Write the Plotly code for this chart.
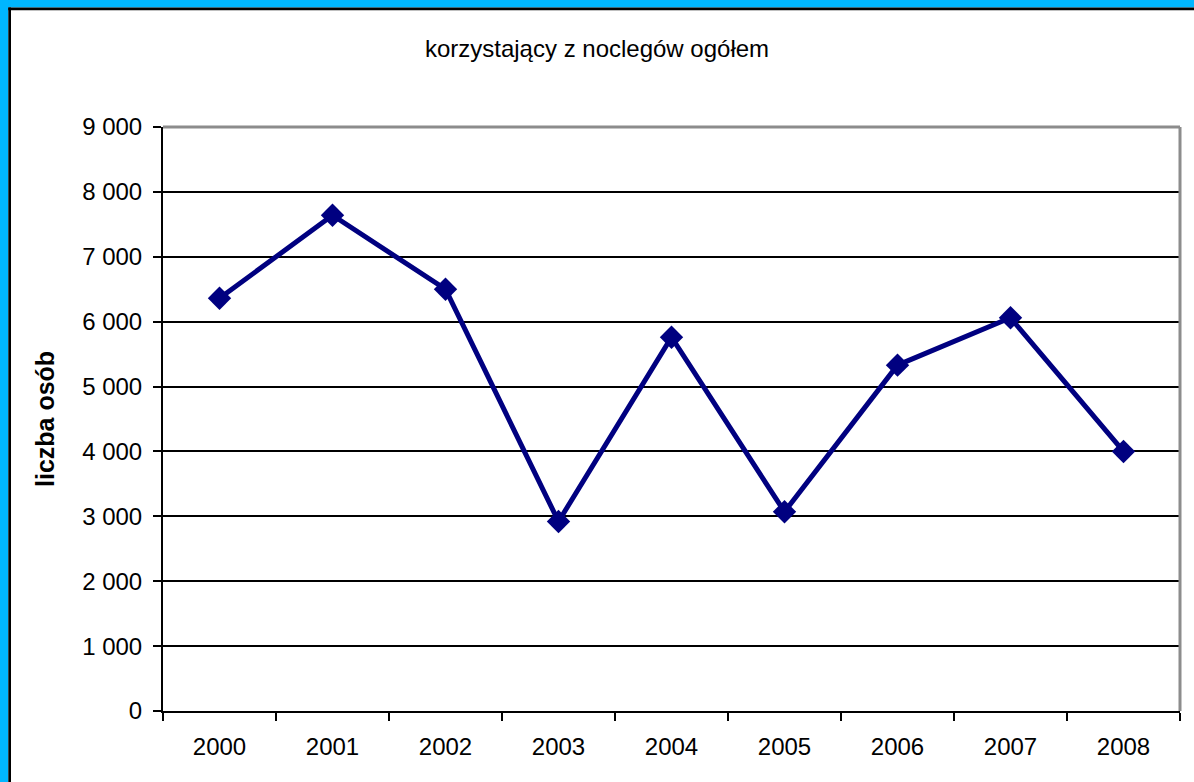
import plotly.graph_objects as go

years = ["2000", "2001", "2002", "2003", "2004", "2005", "2006", "2007", "2008"]
values = [6360, 7640, 6500, 2920, 5760, 3070, 5330, 6060, 4000]
y_ticks = [0, 1000, 2000, 3000, 4000, 5000, 6000, 7000, 8000, 9000]
y_tick_labels = ["0", "1 000", "2 000", "3 000", "4 000", "5 000", "6 000", "7 000", "8 000", "9 000"]
title_text = "korzystający z noclegów ogółem"
y_title = "liczba osób"

W, H = 1194, 782
L, R, T, B = 163, 1180, 127, 711
PW, PH = R - L, B - T


def px(x):
    return (x - L) / PW


def py(y):
    return (B - y) / PH


FONT = "Liberation Sans, Arial, sans-serif"

fig = go.Figure()
fig.add_trace(go.Scatter(
    x=years, y=values, mode="lines+markers",
    line=dict(color="#000080", width=5),
    marker=dict(symbol="diamond", size=18, color="#000080"),
    showlegend=False, cliponaxis=False, hoverinfo="skip",
))

shapes = [
    # cyan outer frame (top & left)
    dict(type="rect", xref="paper", yref="paper", x0=px(0), x1=px(W), y0=py(0), y1=py(7.5),
         fillcolor="#00B6FF", line=dict(width=0), layer="below"),
    dict(type="rect", xref="paper", yref="paper", x0=px(0), x1=px(8.3), y0=py(0), y1=py(H),
         fillcolor="#00B6FF", line=dict(width=0), layer="below"),
    # black inner frame lines
    dict(type="rect", xref="paper", yref="paper", x0=px(8.3), x1=px(W), y0=py(7.5), y1=py(10.3),
         fillcolor="#000000", line=dict(width=0), layer="below"),
    dict(type="rect", xref="paper", yref="paper", x0=px(8.3), x1=px(11), y0=py(7.5), y1=py(H),
         fillcolor="#000000", line=dict(width=0), layer="below"),
    # gray plot-area border top and right
    dict(type="line", xref="paper", yref="paper", x0=0, x1=1, y0=1, y1=1,
         line=dict(color="#8c8c8c", width=3), layer="above"),
    dict(type="line", xref="paper", yref="paper", x0=1, x1=1, y0=0, y1=1,
         line=dict(color="#8c8c8c", width=3), layer="above"),
]

fig.update_layout(
    width=W, height=H,
    margin=dict(l=L, r=W - R, t=T, b=H - B),
    paper_bgcolor="white", plot_bgcolor="white",
    font=dict(family=FONT, size=24, color="black"),
    title=dict(text=title_text, x=0.5, xanchor="center", xref="container",
               y=1 - 49 / H, yanchor="middle", yref="container",
               font=dict(family=FONT, size=24, color="black")),
    shapes=shapes,
    hovermode=False,
    annotations=[dict(text="<b>" + y_title + "</b>", textangle=-90, xref="paper", yref="paper",
                      x=px(45), y=0.5, xanchor="center", yanchor="middle", showarrow=False,
                      font=dict(family=FONT, size=25, color="black"))],
)

fig.update_xaxes(
    type="category", range=[-0.5, 8.5],
    showgrid=False, showline=True, linecolor="black", linewidth=2,
    ticks="outside", tickson="boundaries", ticklen=8, tickwidth=2, tickcolor="black",
    ticklabelstandoff=13,
    tickfont=dict(family=FONT, size=24, color="black"), zeroline=False,
)
fig.update_yaxes(
    range=[0, 9000], tickvals=y_ticks, ticktext=y_tick_labels,
    showgrid=True, gridcolor="black", gridwidth=2,
    showline=True, linecolor="black", linewidth=2,
    ticks="outside", ticklen=8, tickwidth=2, tickcolor="black",
    ticklabelstandoff=6,
    tickfont=dict(family=FONT, size=24, color="black"), zeroline=False,
)

fig.write_html("out.html", config={"displayModeBar": False, "staticPlot": True},
               post_script="document.body.style.margin='0';document.body.style.overflow='hidden';window.scrollTo(0,0);")
